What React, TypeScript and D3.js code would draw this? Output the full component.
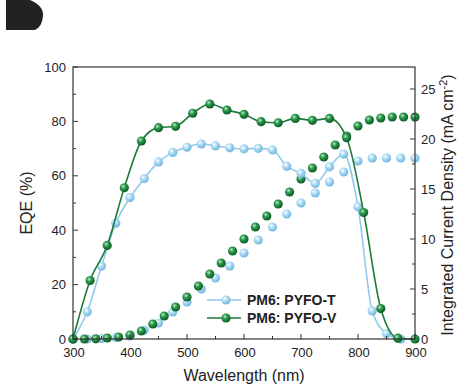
import React from "react";
import { scaleLinear, line, curveMonotoneX, range } from "d3";

// EQE curves (nm, %)
const tWave = [300, 325, 350, 375, 400, 425, 450, 475, 500, 525, 550, 575, 600, 625, 650, 675, 700, 725, 750, 775, 800, 825, 850, 875];
const tEqe = [0, 10, 26.8, 42.6, 52, 59, 65.1, 68.6, 70.5, 71.7, 71, 70.3, 69.9, 70.1, 69.5, 63.5, 60.9, 57.2, 63.3, 68, 48.6, 10.3, 2, 0];
const vWave = [300, 330, 360, 390, 420, 450, 480, 510, 540, 570, 600, 630, 660, 690, 720, 750, 780, 810, 840, 870, 900];
const vEqe = [0, 21.5, 34.4, 55.6, 72.8, 77.7, 78.2, 83, 86.4, 84.2, 82.6, 79.9, 79.5, 81.1, 80.4, 81.1, 74, 46.5, 11.2, 0.3, 0];

// integrated current density (mA cm-2)
const tJWave = [300, 325, 350, 375, 400, 425, 450, 475, 500, 525, 550, 575, 600, 625, 650, 675, 700, 725, 750, 775, 800, 825, 850, 875, 900];
const tJ = [0, 0, 0.05, 0.15, 0.3, 0.9, 1.6, 2.7, 3.7, 5.0, 6.1, 7.3, 8.6, 9.9, 11.2, 12.5, 13.6, 14.6, 15.7, 16.7, 17.8, 18.1, 18.1, 18.1, 18.1];
const vJWave = [300, 320, 340, 360, 380, 400, 420, 440, 460, 480, 500, 520, 540, 560, 580, 600, 620, 640, 660, 680, 700, 720, 740, 760, 780, 800, 820, 840, 860, 880, 900];
const vJ = [0, 0, 0.02, 0.1, 0.2, 0.4, 0.8, 1.5, 2.3, 3.2, 4.2, 5.3, 6.5, 7.6, 8.8, 10.0, 11.2, 12.3, 13.5, 14.7, 16.0, 17.1, 18.2, 19.4, 20.3, 21.3, 21.9, 22.1, 22.2, 22.2, 22.2];

const xTicks = [300, 400, 500, 600, 700, 800, 900];
const yTicks = [0, 20, 40, 60, 80, 100];
const jTicks = [0, 5, 10, 15, 20, 25];

const BLUE = "#8fcbed";
const GREEN = "#1d7a3a";
const FONT = "Liberation Sans, Arial, sans-serif";
const R = 4.6;

export default function App() {
  const left = 73, right = 415, top = 67, bottom = 339;
  const x = scaleLinear().domain([300, 900]).range([left, right]);
  const y = scaleLinear().domain([0, 100]).range([bottom, top]);
  const yJ = scaleLinear().domain([0, 27.2]).range([bottom, top]);

  const eqeLine = line<[number, number]>()
    .x((d) => x(d[0]))
    .y((d) => y(d[1]))
    .curve(curveMonotoneX);

  const tPts: [number, number][] = tWave.map((w, i) => [w, tEqe[i]]);
  const vPts: [number, number][] = vWave.map((w, i) => [w, vEqe[i]]);

  return (
    <svg width={465} height={386} style={{ position: "absolute", left: 0, top: 0, background: "#fff" }} fontFamily={FONT}>
      <defs>
        <radialGradient id="gB" cx="0.38" cy="0.35" r="0.65">
          <stop offset="0" stopColor="#ffffff" />
          <stop offset="0.45" stopColor="#a9d9f3" />
          <stop offset="1" stopColor="#74b6de" />
        </radialGradient>
        <radialGradient id="gG" cx="0.38" cy="0.35" r="0.65">
          <stop offset="0" stopColor="#bfe8c8" />
          <stop offset="0.4" stopColor="#2a9a4c" />
          <stop offset="1" stopColor="#0e5a26" />
        </radialGradient>
      </defs>

      <path d="M6 0 H30 Q44 6 43 16 Q42 27 35 30 H6 Z" fill="#222" />

      {/* integrated current (right axis) */}
      {tJWave.map((w, i) => (
        <circle key={"tj" + w} cx={x(w)} cy={yJ(tJ[i])} r={R} fill="url(#gB)" />
      ))}
      {vJWave.map((w, i) => (
        <circle key={"vj" + w} cx={x(w)} cy={yJ(vJ[i])} r={R} fill="url(#gG)" />
      ))}

      {/* EQE */}
      <path d={eqeLine(tPts) || ""} fill="none" stroke={BLUE} strokeWidth={1.6} />
      {tPts.map((d) => (
        <circle key={"t" + d[0]} cx={x(d[0])} cy={y(d[1])} r={R} fill="url(#gB)" />
      ))}
      <path d={eqeLine(vPts) || ""} fill="none" stroke={GREEN} strokeWidth={1.6} />
      {vPts.map((d) => (
        <circle key={"v" + d[0]} cx={x(d[0])} cy={y(d[1])} r={R} fill="url(#gG)" />
      ))}

      {/* frame */}
      <rect x={left} y={top} width={right - left} height={bottom - top} fill="none" stroke="#333" strokeWidth={1.2} />

      {/* bottom axis */}
      {range(300, 901, 50).map((v) => (
        <line key={"xt" + v} x1={x(v)} x2={x(v)} y1={bottom} y2={bottom - (v % 100 === 0 ? 5 : 3)} stroke="#333" />
      ))}
      {xTicks.map((v) => (
        <text key={"xl" + v} x={x(v) + 1} y={bottom + 18} textAnchor="middle" fontSize={13} fill="#222">{v}</text>
      ))}
      <text x={(left + right) / 2} y={381} textAnchor="middle" fontSize={16} fill="#222">Wavelength (nm)</text>

      {/* left axis */}
      {range(0, 101, 10).map((v) => (
        <line key={"yt" + v} x1={left} x2={left + (v % 20 === 0 ? 5 : 3)} y1={y(v)} y2={y(v)} stroke="#333" />
      ))}
      {yTicks.map((v) => (
        <text key={"yl" + v} x={left - 7} y={y(v) + 4.5} textAnchor="end" fontSize={13} fill="#222">{v}</text>
      ))}
      <text transform={`translate(32, ${(top + bottom) / 2}) rotate(-90)`} textAnchor="middle" fontSize={16} fill="#222">EQE (%)</text>

      {/* right axis */}
      {range(0, 27.2, 2.5).map((v) => (
        <line key={"jt" + v} x1={right} x2={right - (v % 5 === 0 ? 5 : 3)} y1={yJ(v)} y2={yJ(v)} stroke="#333" />
      ))}
      {jTicks.map((v) => (
        <text key={"jl" + v} x={right + 6} y={yJ(v) + 4.5} textAnchor="start" fontSize={13} fill="#222">{v}</text>
      ))}
      <text transform={`translate(453, ${(top + bottom) / 2 + 2}) rotate(-90)`} textAnchor="middle" fontSize={16} fill="#222">
        Integrated Current Density (mA cm<tspan dy={-6} fontSize={11}>-2</tspan><tspan dy={6}>)</tspan>
      </text>

      {/* legend */}
      <line x1={207} x2={241} y1={300} y2={300} stroke={BLUE} strokeWidth={1.6} />
      <circle cx={226} cy={300} r={R} fill="url(#gB)" />
      <text x={247} y={305} fontSize={14} fontWeight="bold" fill="#222">PM6: PYFO-T</text>
      <line x1={207} x2={241} y1={318} y2={318} stroke={GREEN} strokeWidth={1.6} />
      <circle cx={226} cy={318} r={R} fill="url(#gG)" />
      <text x={247} y={323} fontSize={14} fontWeight="bold" fill="#222">PM6: PYFO-V</text>
    </svg>
  );
}
